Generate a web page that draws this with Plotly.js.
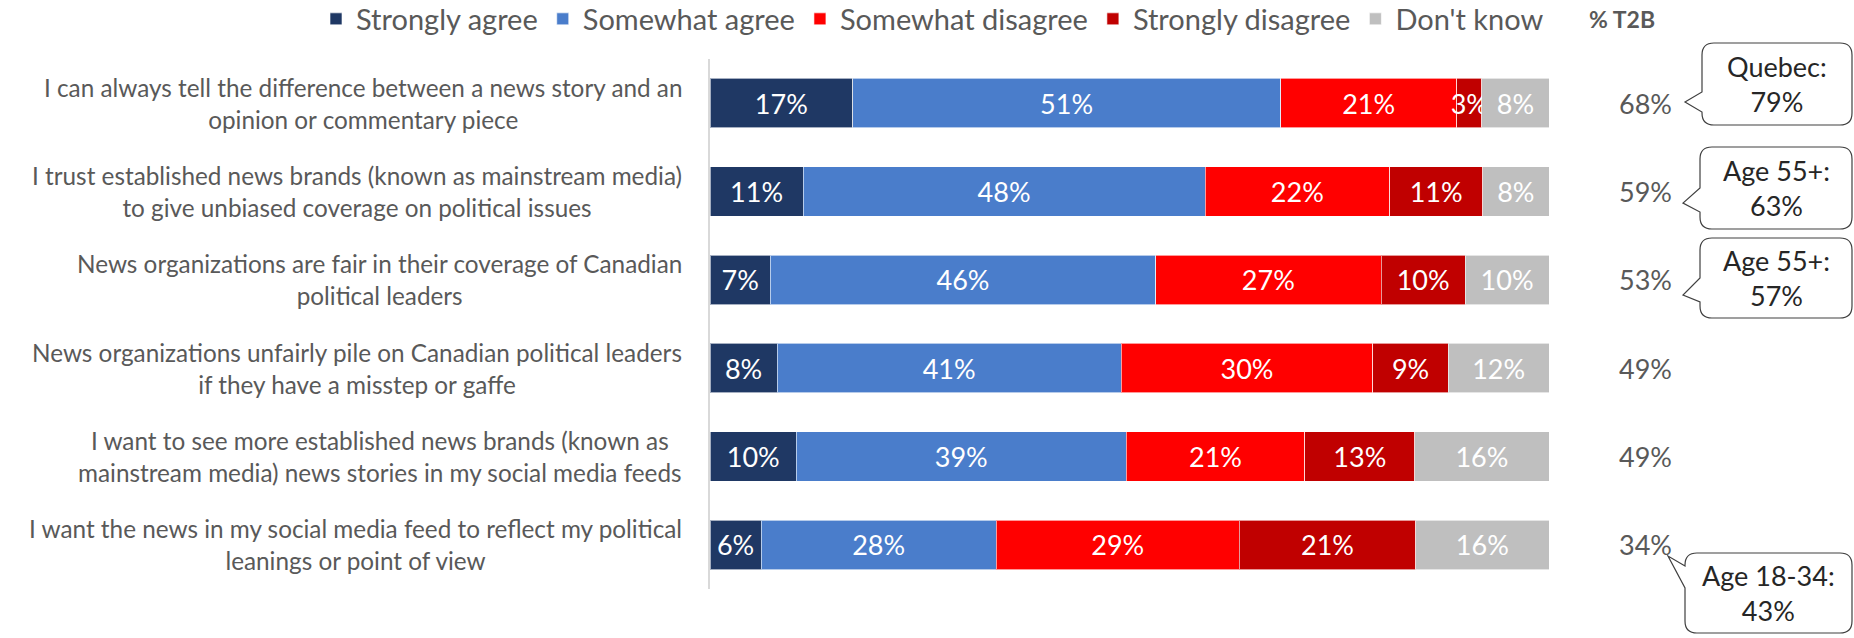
<!DOCTYPE html>
<html>
<head>
<meta charset="utf-8">
<script src="https://cdn.plot.ly/plotly-3.0.1.min.js"></script>
<style>html,body{margin:0;padding:0;background:#fff;}#chart{width:1854px;height:638px;}</style>
</head>
<body>
<div id="chart"></div>
<script>
// ---- data ----
const categories = [
  "I can always tell the difference between a news story and an<br>opinion or commentary piece",
  "I trust established news brands (known as mainstream media)<br>to give unbiased coverage on political issues",
  "News organizations are fair in their coverage of Canadian<br>political leaders",
  "News organizations unfairly pile on Canadian political leaders<br>if they have a misstep or gaffe",
  "I want to see more established news brands (known as<br>mainstream media) news stories in my social media feeds",
  "I want the news in my social media feed to reflect my political<br>leanings or point of view"
];
const seriesNames = ["Strongly agree", "Somewhat agree", "Somewhat disagree", "Strongly disagree", "Don't know"];
const stronglyAgree    = [17.0, 11.1, 7.2, 8.0, 10.3, 6.1];
const somewhatAgree    = [51.0, 47.9, 45.9, 41.0, 39.3, 28.0];
const somewhatDisagree = [21.0, 22.0, 26.9, 30.0, 21.3, 29.0];
const stronglyDisagree = [3.0, 11.1, 10.0, 9.0, 13.1, 21.0];
const dontKnow         = [8.0, 7.9, 10.0, 12.0, 16.0, 15.9];
const t2b = [68, 59, 53, 49, 49, 34];
const callouts = [
  {row: 0, text: "Quebec:<br>79%"},
  {row: 1, text: "Age 55+:<br>63%"},
  {row: 2, text: "Age 55+:<br>57%"},
  {row: 5, text: "Age 18-34:<br>43%"}
];

// ---- styles ----
const colors = ["#1F3864", "#4A7DCB", "#FF0000", "#C00000", "#BFBFBF"];
const FONT = "Lato, 'Liberation Sans', sans-serif";
const GRAY = "#595959";

// plot area in pixels
const L = 710, R = 1549, T = 59, B = 589;
const px = x => (x - L) / (R - L);
const py = y => (B - y) / (B - T);

const values = [stronglyAgree, somewhatAgree, somewhatDisagree, stronglyDisagree, dontKnow];
const traces = values.map((v, i) => ({
  type: "bar",
  orientation: "h",
  name: seriesNames[i],
  y: categories,
  x: v,
  marker: {color: colors[i], line: {color: "rgba(255,255,255,0.6)", width: 1}},
  text: v.map(d => Math.round(d) + "%"),
  textposition: "inside",
  insidetextanchor: "middle",
  textangle: 0,
  textfont: {family: FONT, size: 27, color: "#FFFFFF"},
  hoverinfo: "skip",
  cliponaxis: false
}));

const annotations = [];
categories.forEach((c, i) => {
  annotations.push({
    xref: "paper", yref: "y", x: px(684), y: c, xanchor: "right", yanchor: "middle",
    text: c, align: "center", showarrow: false,
    font: {family: FONT, size: 24.3, color: GRAY}
  });
  annotations.push({
    xref: "paper", yref: "y", x: px(1645), y: c, xanchor: "center", yanchor: "middle",
    text: t2b[i] + "%", showarrow: false,
    font: {family: FONT, size: 27, color: GRAY}
  });
});
annotations.push({
  xref: "paper", yref: "paper", x: px(1622), y: py(19), xanchor: "center", yanchor: "middle",
  text: "<b>% T2B</b>", showarrow: false, font: {family: FONT, size: 23, color: GRAY}
});

// callout boxes (pixel geometry)
const boxes = [
  {x0: 1702, y0: 43, x1: 1852, y1: 125, tip: [1685, 102], b0: 92, b1: 112},
  {x0: 1700, y0: 147, x1: 1852, y1: 229, tip: [1683, 203], b0: 188, b1: 212},
  {x0: 1700, y0: 238, x1: 1852, y1: 318, tip: [1683, 295], b0: 278, b1: 302},
  {x0: 1685, y0: 553, x1: 1852, y1: 633, tip: [1668, 556], b0: 566, b1: 588}
];
function calloutPath(b) {
  const r = 12;
  const P = (x, y) => px(x).toFixed(5) + "," + py(y).toFixed(5);
  return "M" + P(b.x0 + r, b.y0) +
    " L" + P(b.x1 - r, b.y0) + " Q" + P(b.x1, b.y0) + " " + P(b.x1, b.y0 + r) +
    " L" + P(b.x1, b.y1 - r) + " Q" + P(b.x1, b.y1) + " " + P(b.x1 - r, b.y1) +
    " L" + P(b.x0 + r, b.y1) + " Q" + P(b.x0, b.y1) + " " + P(b.x0, b.y1 - r) +
    " L" + P(b.x0, b.b1) + " L" + P(b.tip[0], b.tip[1]) + " L" + P(b.x0, b.b0) +
    " L" + P(b.x0, b.y0 + r) + " Q" + P(b.x0, b.y0) + " " + P(b.x0 + r, b.y0) + " Z";
}
const shapes = boxes.map(b => ({
  type: "path", xref: "paper", yref: "paper", path: calloutPath(b),
  fillcolor: "#FFFFFF", line: {color: "#404040", width: 1.2}, layer: "above"
}));
callouts.forEach((c, i) => {
  const b = boxes[i];
  annotations.push({
    xref: "paper", yref: "paper", x: px((b.x0 + b.x1) / 2), y: py((b.y0 + b.y1) / 2),
    xanchor: "center", yanchor: "middle", text: c.text, align: "center", showarrow: false,
    font: {family: FONT, size: 27, color: "#262626"}
  });
});

const layout = {
  width: 1854, height: 638,
  margin: {l: L, r: 1854 - R, t: T, b: 638 - B, pad: 0, autoexpand: false},
  barmode: "stack",
  bargap: 0.44,
  paper_bgcolor: "#FFFFFF", plot_bgcolor: "#FFFFFF",
  showlegend: true,
  legend: {
    orientation: "h", x: px(316), xanchor: "left", y: py(19), yanchor: "middle",
    font: {family: FONT, size: 29, color: GRAY}, traceorder: "normal",
    itemclick: false, itemdoubleclick: false, itemwidth: 30
  },
  uniformtext: {mode: "show", minsize: 27},
  xaxis: {range: [0, 100], visible: false, fixedrange: true},
  yaxis: {
    type: "category", autorange: "reversed", showticklabels: false,
    showline: true, linecolor: "#D9D9D9", linewidth: 2, showgrid: false, zeroline: false,
    ticks: "", fixedrange: true
  },
  annotations: annotations,
  shapes: shapes,
  hovermode: false
};

Plotly.newPlot("chart", traces, layout, {displayModeBar: false, staticPlot: true});
</script>
</body>
</html>
